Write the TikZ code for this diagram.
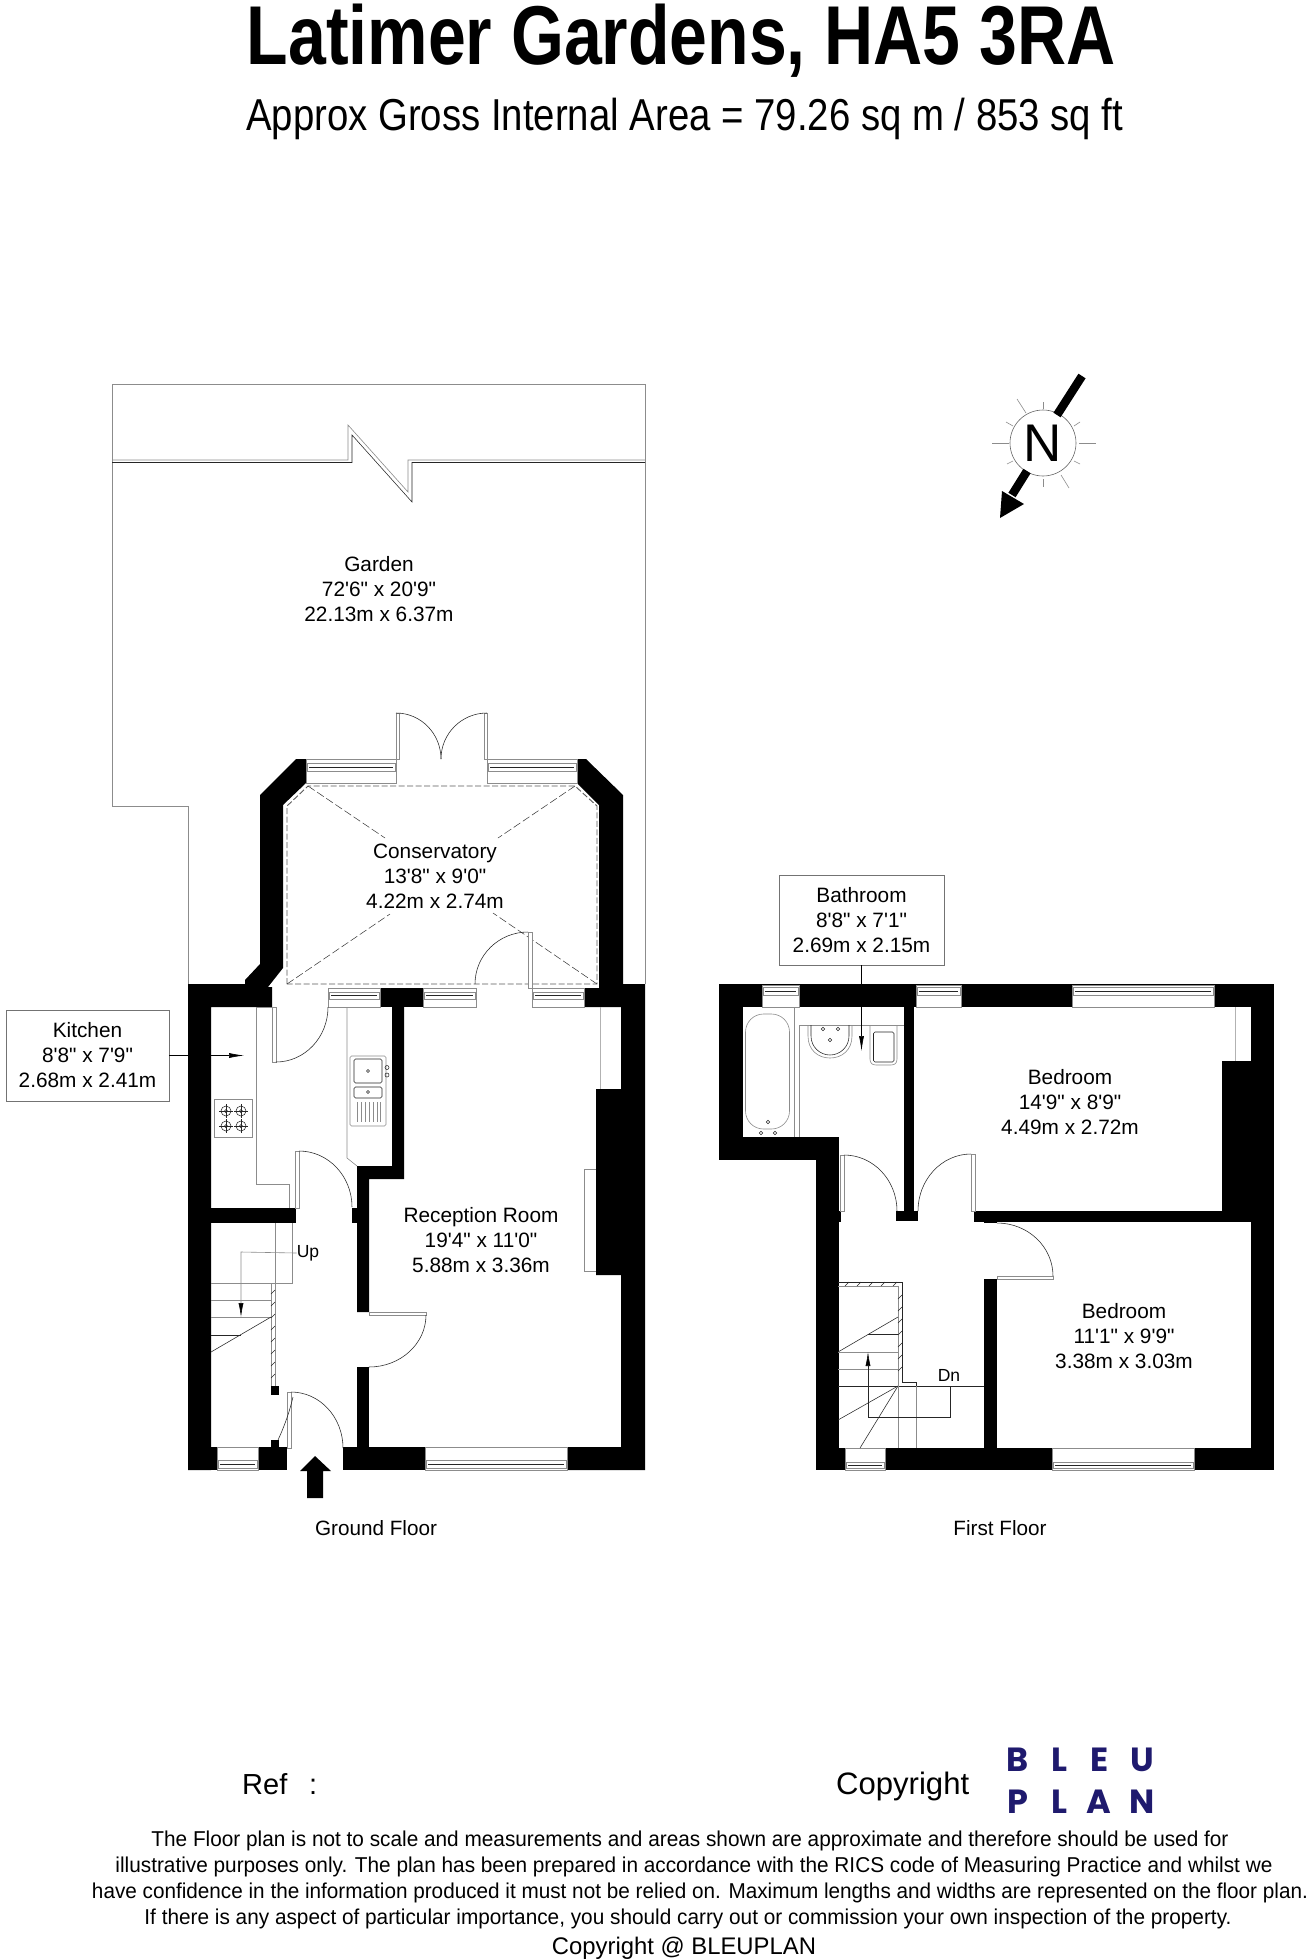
\documentclass[tikz,border=0pt]{standalone}
\usepackage{fontspec}
\usepackage{graphicx}
\usetikzlibrary{arrows.meta}
\setmainfont{Liberation Sans}
\newfontfamily\logofont{Poppins}
\newfontfamily\labelfont{Liberation Sans}
\definecolor{logoink}{HTML}{1F1A6E}
\tikzset{
  wall/.style={fill=black,draw=none},
  thinl/.style={draw=black!85,line width=0.55pt},
  grayl/.style={draw=black!45,line width=0.6pt},
  palel/.style={draw=black!30,line width=0.8pt},
  winfill/.style={fill=white,draw=black!45,line width=0.6pt},
  roomlabel/.style={align=center,font=\labelfont\fontsize{20.8}{25}\selectfont,inner sep=0pt},
  floorlabel/.style={font=\fontsize{20.7}{25}\selectfont,inner sep=0pt},
  boxlabel/.style={roomlabel,draw=black!55,line width=0.6pt,fill=white,minimum width=163pt,minimum height=91pt},
  footline/.style={font=\fontsize{21.5}{25}\selectfont,inner sep=0pt,anchor=base},
  logoletter/.style={text=logoink,font=\logofont\bfseries\fontsize{33.5}{36}\selectfont,inner sep=0pt,anchor=base},
  dashout/.style={draw=black!65,line width=0.9pt,dash pattern=on 6pt off 2.5pt},
  dashdiag/.style={draw=black!80,line width=0.5pt,dash pattern=on 8pt off 3pt},
  tipk/.style={-{Latex[length=15pt,width=5pt]},draw=black,line width=0.6pt}
}
\newcommand\fitw[2]{\resizebox{#1pt}{\height}{#2}}
\newcommand\qarc[4]{\draw[thinl] (#1,#2) .. controls (#1,{#2+0.552*(#4-#2)}) and ({#3-0.552*(#3-#1)},#4) .. (#3,#4);}
\newcommand\winrect[6]{\path[winfill] (#1,#2) rectangle (#3,#4);
  \draw[grayl] ({#1+1},#5) rectangle ({#3-1},#6);
  \draw[thinl] ({#1+3},{0.5*(#5+#6)}) -- ({#3-3},{0.5*(#5+#6)});}
\newcommand\leaf[4]{\draw[grayl,fill=white] (#1,#2) rectangle (#3,#4);}
\begin{document}
\begin{tikzpicture}[x=1pt,y=-1pt]
\useasboundingbox (0,0) rectangle (1312,1960);
\fill[white] (0,0) rectangle (1312,1960);
% titles
\node[inner sep=0pt,anchor=base west,font=\bfseries\fontsize{83.5}{90}\selectfont] (title) at (246.5,64) {\fitw{869}{Latimer Gardens, HA5 3RA}};
\node[inner sep=0pt,anchor=base west,font=\fontsize{44.7}{50}\selectfont] (subtitle) at (246,130) {\fitw{877}{Approx Gross Internal Area = 79.26 sq m / 853 sq ft}};
% garden
\draw[grayl] (188,984) -- (188,806) -- (112,806) -- (112,384) -- (645,384) -- (645,984);
\draw[grayl] (112,460) -- (348,460) -- (348,425) -- (408,492) -- (408,460) -- (645,460);
\draw[thinl] (112,462.5) -- (352,462.5) -- (352,435) -- (412,502) -- (412,462.5) -- (645,462.5);
% ground floor walls
\path[wall] (188,984) -- (245,984) -- (245,980) -- (260,964) -- (260,795) -- (296,759) -- (306,759) -- (306,783) -- (283,805) -- (283,968) -- (268,987) -- (272,987) -- (272,1007) -- (211,1007) -- (211,1470) -- (188,1470) -- cycle;
\path[wall] (577,759) -- (586,759) -- (623,795) -- (623,984) -- (645,984) -- (645,1470) -- (567,1470) -- (567,1447) -- (621,1447) -- (621,1275) -- (596,1275) -- (596,1089) -- (621,1089) -- (621,1007) -- (584,1007) -- (584,988) -- (599,988) -- (599,805) -- (577,783) -- cycle;
\path[wall] (380,988) rectangle (423,1007);
\path[wall] (392,1007) -- (404,1007) -- (404,1179) -- (369,1179) -- (369,1312) -- (357,1312) -- (357,1166) -- (392,1166) -- cycle;
\path[wall] (357,1367) rectangle (369,1447);
\path[wall] (211,1447) rectangle (287,1470);
\path[wall] (343,1447) rectangle (567,1470);
\path[wall] (211,1208) rectangle (296,1223);
\path[wall] (352,1208) rectangle (357,1223);
\path[wall] (271,1386) rectangle (279,1395);
\path[wall] (271,1440) rectangle (279,1448);
% ground windows
\winrect{306}{759}{396}{783}{763}{771}
\winrect{487}{759}{577}{783}{763}{771}
\winrect{328}{988}{380}{1007}{992}{999}
\winrect{423}{988}{476}{1007}{992}{999}
\winrect{532}{988}{584}{1007}{992}{999}
\winrect{217}{1447}{258}{1470}{1460}{1468}
\winrect{425}{1447}{567}{1470}{1460}{1468}
% conservatory roof
\draw[dashout] (287,984) -- (287,806) -- (308,786) -- (575,786) -- (597,806) -- (597,984) -- cycle;
\draw[dashdiag] (308,786) -- (385,838);
\draw[dashdiag] (575,786) -- (498,838);
\draw[dashdiag] (287,984) -- (390,914);
\draw[dashdiag] (597,984) -- (493,913);
% doors ground
\leaf{396}{713}{399}{759}
\leaf{484}{713}{487}{759}
\qarc{441}{759}{396}{713}
\qarc{441}{759}{487}{713}
\leaf{528}{932}{532}{988}
\qarc{475}{984}{528}{932}
\leaf{272}{1007}{276}{1062}
\qarc{328}{1007}{276}{1062}
\leaf{295}{1151}{299}{1208}
\qarc{352}{1207}{299}{1151}
\leaf{369}{1312}{426}{1315}
\qarc{426}{1315}{369}{1367}
\leaf{287}{1392}{291}{1448}
\qarc{343}{1448}{291}{1392}
\draw[thinl] (278,1440) .. controls (285,1425) and (290,1410) .. (293,1397);
% kitchen fittings
\draw[grayl] (272,1007) -- (256,1007) -- (256,1184) -- (289,1184) -- (289,1208);
\draw[grayl] (347,1007) -- (347,1158) -- (357,1166);
\draw[grayl,rounded corners=1.5pt] (350,1056) rectangle (386,1126);
\draw[thinl,rounded corners=1.5pt] (354,1059) rectangle (382,1083);
\draw[thinl,rounded corners=1.5pt] (354,1087) rectangle (382,1098);
\draw[thinl] (368,1071) circle[radius=1.5pt] (368,1092) circle[radius=1.5pt];
\draw[thinl] (387,1067.5) circle[radius=2pt] (387,1075) circle[radius=2pt];
\foreach \dx in {357,361,365,369,373,377,380} {\draw[grayl] (\dx,1102) -- (\dx,1122);}
\draw[grayl] (214,1099.5) rectangle (252,1137);
\foreach \bx/\by in {226/1111,241/1111,226/1126,241/1126} {
  \draw[thinl] (\bx,\by) circle[radius=5pt] (\bx,\by) circle[radius=1.6pt];
  \draw[thinl] ({\bx-7},\by) -- ({\bx+7},\by) (\bx,{\by-7}) -- (\bx,{\by+7});}
% reception fittings
\draw[palel] (600,1007) -- (600,1089);
\draw[grayl] (596,1169) -- (584,1169) -- (584,1271) -- (596,1271);
% stairs ground
\draw[grayl] (275,1223) -- (275,1283);
\draw[grayl] (292,1223) -- (292,1283) -- (211,1283);
\draw[grayl] (271,1283) -- (271,1386) (275,1283) -- (275,1386);
\foreach \hy in {1290,1302,1314,1326,1338,1350,1362,1374} {\draw[thinl] (271,{\hy+4}) -- (275,\hy);}
\draw[grayl] (211,1300) -- (271,1300);
\draw[grayl] (211,1317) -- (271,1317);
\draw[thinl] (211,1335) -- (241,1335);
\draw[thinl] (211,1352) -- (271,1317);
% first floor walls
\path[wall] (719,984) rectangle (1274,1007);
\path[wall] (719,984) rectangle (743,1160);
\path[wall] (719,1137) rectangle (839,1160);
\path[wall] (816,1137) rectangle (839,1470);
\path[wall] (1251,984) rectangle (1274,1470);
\path[wall] (1222,1061) rectangle (1251,1222);
\path[wall] (974,1211) rectangle (1251,1222);
\path[wall] (984,1222) rectangle (997,1223);
\path[wall] (904,1007) rectangle (914,1221);
\path[wall] (896,1211) rectangle (918,1221);
\path[wall] (839,1211) rectangle (841,1222);
\path[wall] (984,1279) rectangle (997,1448);
\path[wall] (816,1448) rectangle (1274,1470);
% first floor windows
\winrect{762}{985}{799}{1007}{987}{995}
\winrect{916}{985}{961}{1007}{987}{995}
\winrect{1072}{985}{1214}{1007}{987}{995}
\winrect{845}{1448}{885}{1470}{1462}{1468}
\winrect{1052}{1448}{1194}{1470}{1462}{1468}
% doors first floor
\leaf{840}{1155}{844}{1211}
\qarc{897}{1211}{844}{1155}
\leaf{971}{1154}{975}{1211}
\qarc{918}{1211}{971}{1154}
\leaf{997}{1276}{1053}{1279}
\qarc{1053}{1276}{997}{1223}
% bathroom
\draw[grayl] (794,1007) -- (794,1137) (799,1025) -- (799,1137);
\draw[grayl] (799,1025) -- (904,1025);
\draw[grayl,rounded corners=18pt] (745.5,1014) rectangle (789.5,1129);
\foreach \px/\py in {768/1122,761/1133,775/1133,823/1029,838/1029,830/1040} {\draw[thinl] (\px,\py) circle[radius=1.8pt];}
\draw[grayl] (808,1025) -- (808,1036) .. controls (808,1050) and (818,1058) .. (830,1058) .. controls (842,1058) and (852,1050) .. (852,1036) -- (852,1025);
\draw[thinl] (811,1025) -- (811,1036) .. controls (811,1047) and (820,1055) .. (830,1055) .. controls (840,1055) and (849,1047) .. (849,1036) -- (849,1025);
\draw[grayl] (870,1025) -- (870,1059) .. controls (870,1063) and (872,1065) .. (876,1065) -- (891,1065) .. controls (895,1065) and (897,1063) .. (897,1059) -- (897,1025);
\draw[thinl,rounded corners=1.5pt] (873.5,1032) rectangle (894,1062);
% bedroom fitting
\draw[palel] (1235,1007) -- (1235,1061);
% stairs first floor
\draw[thinl] (838,1282) -- (902,1282) -- (902,1382) -- (916,1382) -- (916,1386);
\draw[grayl] (838,1286) -- (898,1286) -- (898,1386);
\foreach \hx in {845,857,869,881,893} {\draw[thinl] (\hx,1286) -- ({\hx+4},1282);}
\foreach \hy in {1295,1307,1319,1331,1343,1355,1367} {\draw[thinl] (898,{\hy+4}) -- (902,\hy);}
\draw[grayl] (838,1352) -- (898,1352);
\draw[grayl] (838,1369) -- (898,1369);
\draw[thinl] (838,1352) -- (898,1317);
\draw[thinl] (868,1334) -- (898,1334);
\draw[thinl] (838,1386) -- (984,1386);
\draw[thinl] (838,1420) -- (898,1386);
\draw[thinl] (860,1448) -- (898,1386);
\draw[grayl] (898,1386) -- (898,1448) (916,1386) -- (916,1448);
% stair labels and arrows
\node[floorlabel,font=\fontsize{17.5}{20}\selectfont] (uplabel) at (308,1253) {Up};
\coordinate (uptip) at (241,1317);
\draw[grayl,-{Latex[length=14pt,width=5pt,black]}] (uplabel.west) -- (241,1252) -- (uptip);
\node[floorlabel,font=\fontsize{17.5}{20}\selectfont] (dnlabel) at (949,1375) {Dn};
\coordinate (dntip) at (868,1352);
\draw[thinl,-{Latex[length=14pt,width=5pt,black]}] (950,1386) -- (950,1417) -- (868,1417) -- (dntip);
% entrance arrow
\path[wall] (315,1456) -- (331,1471) -- (323,1471) -- (323,1498) -- (307,1498) -- (307,1471) -- (300,1471) -- cycle;
% labels
\node[roomlabel] (garden) at (379,589) {Garden\\72'6" x 20'9"\\22.13m x 6.37m};
\node[roomlabel] (conservatory) at (435,876) {Conservatory\\13'8" x 9'0"\\4.22m x 2.74m};
\node[roomlabel] (reception) at (481,1240) {Reception Room\\19'4" x 11'0"\\5.88m x 3.36m};
\node[roomlabel] (bedone) at (1070,1102) {Bedroom\\14'9" x 8'9"\\4.49m x 2.72m};
\node[roomlabel] (bedtwo) at (1124,1336) {Bedroom\\11'1" x 9'9"\\3.38m x 3.03m};
\node[boxlabel] (kitchen) at (87.5,1055.5) {Kitchen\\8'8" x 7'9"\\2.68m x 2.41m};
\node[boxlabel,minimum width=165pt,minimum height=90pt] (bathroom) at (861.5,920) {Bathroom\\8'8" x 7'1"\\2.69m x 2.15m};
\coordinate (kittip) at (244,1055.5);
\coordinate (bathtip) at (861.5,1051);
\draw[tipk] (kitchen.east) -- (kittip);
\draw[tipk] (bathroom.south) -- (bathtip);
\node[floorlabel] (groundfloor) at (376,1528) {Ground Floor};
\node[floorlabel] (firstfloor) at (1000,1528) {First Floor};
% compass
\foreach \ax/\ay/\bx/\by in {1043/402/1043/409,992/443/1009/443,1079/443/1096/443,1043/479/1043/487,1017/399/1026/413,1061/475/1069/488,1006/422/1013/426,1007/464/1013/461,1074/426/1080/422,1074/461/1080/464} {\draw[grayl] (\ax,\ay) -- (\bx,\by);}
\node[circle,draw=black!60,line width=0.6pt,minimum size=66pt,inner sep=0pt,font=\fontsize{53}{53}\selectfont] (north) at (1043,443) {N};
\draw[black,line width=8.5pt] (1082,376) -- (1057,415);
\draw[black,line width=8.5pt] (1027,471) -- (1012,495);
\path[wall] (1000,518) -- (1002,491) -- (1024,504) -- cycle;
% footer
\node[inner sep=0pt,anchor=base west,font=\fontsize{29}{30}\selectfont] (ref) at (242,1794) {Ref\hspace{0.75em}:};
\node[inner sep=0pt,anchor=base west,font=\fontsize{31}{32}\selectfont] (copy) at (836,1794) {\fitw{133}{Copyright}};
\node[logoletter] (la) at (1018,1771) {B};
\node[logoletter] (lb) at (1059,1771) {L};
\node[logoletter] (lc) at (1100,1771) {E};
\node[logoletter] (ld) at (1142,1771) {U};
\node[logoletter] (le) at (1018,1813) {P};
\node[logoletter] (lf) at (1059,1813) {L};
\node[logoletter] (lg) at (1099,1813) {A};
\node[logoletter] (lh) at (1142,1813) {N};
\node[footline] (fa) at (690,1846) {\fitw{1077}{The Floor plan is not to scale and measurements and areas shown are approximate and therefore should be used for}};
\node[footline] (fb) at (694,1872) {\fitw{1157}{illustrative purposes only. The plan has been prepared in accordance with the RICS code of Measuring Practice and whilst we}};
\node[footline] (fc) at (700,1898) {\fitw{1216}{have confidence in the information produced it must not be relied on. Maximum lengths and widths are represented on the floor plan.}};
\node[footline] (fd) at (688,1924) {\fitw{1087}{If there is any aspect of particular importance, you should carry out or commission your own inspection of the property.}};
\node[footline,font=\fontsize{24}{26}\selectfont] (fe) at (684,1954) {\fitw{264}{Copyright @ BLEUPLAN}};
\end{tikzpicture}
\end{document}
